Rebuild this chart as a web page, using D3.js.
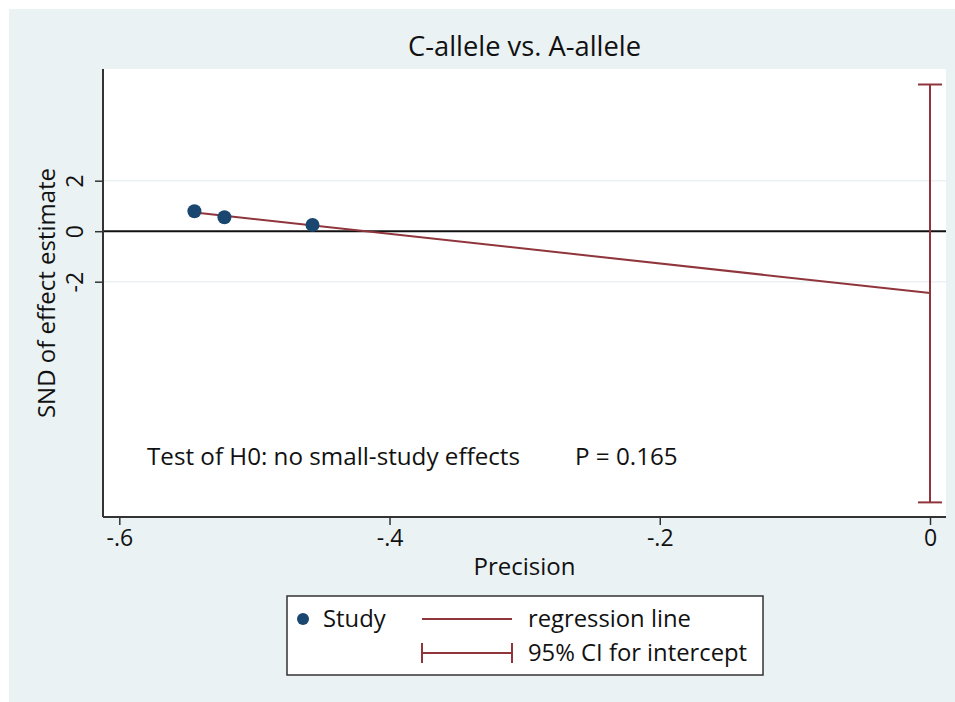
<!DOCTYPE html>
<html><head><meta charset="utf-8">
<script src="https://cdn.jsdelivr.net/npm/d3@7/dist/d3.min.js"></script>
<style>body{margin:0;background:#fff}svg{display:block}text{font-family:"Open Sans","Noto Sans",sans-serif;fill:#111}</style>
</head><body><svg id="c" width="955" height="702"></svg>
<script>
const title = "C-allele vs. A-allele";
const precision = [-0.5444, -0.5222, -0.457];
const snd = [0.79, 0.55, 0.25];
const regStart = -0.544, intercept = -2.45, slopeEnd = 0.74;
const ciLow = -10.74, ciHigh = 5.81;
const xTicks = [-0.6, -0.4, -0.2, 0];
const xTickLabels = ["-.6", "-.4", "-.2", "0"];
const yTicks = [2, 0, -2];
const testText = "Test of H0: no small-study effects";
const pText = "P = 0.165";
const legendLabels = ["Study", "regression line", "95% CI for intercept"];

const FF = '"Open Sans","Noto Sans",sans-serif';
const svg = d3.select("#c");
const bg = "#eaf2f3", navy = "#1a476f", maroon = "#90353b";
svg.append("rect").attr("x",9).attr("y",9).attr("width",946).attr("height",693).attr("fill",bg);
const L=103,T=69,R=946,B=517;
svg.append("rect").attr("x",L).attr("y",T).attr("width",R-L).attr("height",B-T).attr("fill","#fff");
const x = d3.scaleLinear().domain([-0.6,0]).range([119.3,930]);
const y = d3.scaleLinear().domain([2,-2]).range([180.7,281.7]);

// gridlines
svg.append("g").selectAll("line").data(yTicks.filter(d=>d!==0)).join("line")
  .attr("x1",L).attr("x2",R).attr("y1",d=>y(d)).attr("y2",d=>y(d))
  .attr("stroke",bg).attr("stroke-width",1.5);
// zero line
svg.append("line").attr("x1",L).attr("x2",R).attr("y1",y(0)).attr("y2",y(0)).attr("stroke","#111").attr("stroke-width",2);

// axes
const xa = svg.append("g").attr("transform",`translate(0,${B})`)
  .call(d3.axisBottom(x).tickValues(xTicks).tickFormat((d,i)=>xTickLabels[i]).tickSize(8).tickPadding(5));
xa.select(".domain").attr("d",`M${L},0H${R}`).attr("stroke","#333").attr("stroke-width",2);
xa.selectAll(".tick line").attr("stroke","#333").attr("stroke-width",1.5);
xa.selectAll(".tick text").attr("font-size",23).attr("fill","#111").style("font-family",FF);

const ya = svg.append("g").attr("transform",`translate(${L},0)`)
  .call(d3.axisLeft(y).tickValues(yTicks).tickSize(8).tickFormat(d=>d<0?"-"+Math.abs(d):String(d)));
ya.select(".domain").attr("d",`M0,${T}V${B}`).attr("stroke","#333").attr("stroke-width",2);
ya.selectAll(".tick line").attr("stroke","#333").attr("stroke-width",1.5);
ya.selectAll(".tick text").attr("font-size",23).attr("fill","#111")
  .attr("x",0).attr("dy",0).attr("text-anchor","middle")
  .attr("transform","translate(-20,0) rotate(-90)")
  .style("font-family",FF);

// CI
const ciX = x(0), cap=12;
svg.append("line").attr("x1",ciX).attr("x2",ciX).attr("y1",y(ciHigh)).attr("y2",y(ciLow)).attr("stroke",maroon).attr("stroke-width",2);
[ciHigh,ciLow].forEach(v=>svg.append("line").attr("x1",ciX-cap).attr("x2",ciX+cap).attr("y1",y(v)).attr("y2",y(v)).attr("stroke",maroon).attr("stroke-width",2));
// regression line
svg.append("line").attr("x1",x(regStart)).attr("y1",y(slopeEnd)).attr("x2",x(0)).attr("y2",y(intercept)).attr("stroke",maroon).attr("stroke-width",2);
// points
svg.append("g").selectAll("circle").data(precision).join("circle")
  .attr("cx",d=>x(d)).attr("cy",(d,i)=>y(snd[i])).attr("r",7).attr("fill",navy);

// texts
svg.append("text").attr("x",524.5).attr("y",56).attr("text-anchor","middle").attr("font-size",27.3).text(title);
svg.append("text").attr("x",524.5).attr("y",575).attr("text-anchor","middle").attr("font-size",24).text("Precision");
svg.append("text").attr("transform","translate(55,293) rotate(-90)").attr("text-anchor","middle").attr("font-size",24).text("SND of effect estimate");
svg.append("text").attr("x",147).attr("y",465).attr("font-size",24.2).text(testText);
svg.append("text").attr("x",575).attr("y",465).attr("font-size",24.2).text(pText);

// legend
svg.append("rect").attr("x",287).attr("y",596).attr("width",476).attr("height",79).attr("fill","#fff").attr("stroke","#333").attr("stroke-width",1.5);
svg.append("circle").attr("cx",303).attr("cy",619).attr("r",6).attr("fill",navy);
svg.append("text").attr("x",323).attr("y",627).attr("font-size",23.8).text(legendLabels[0]);
svg.append("line").attr("x1",422).attr("x2",512).attr("y1",619).attr("y2",619).attr("stroke",maroon).attr("stroke-width",2);
svg.append("text").attr("x",528).attr("y",627).attr("font-size",23.8).text(legendLabels[1]);
svg.append("line").attr("x1",422).attr("x2",512).attr("y1",653).attr("y2",653).attr("stroke",maroon).attr("stroke-width",2);
[422,512].forEach(v=>svg.append("line").attr("x1",v).attr("x2",v).attr("y1",643).attr("y2",663).attr("stroke",maroon).attr("stroke-width",2));
svg.append("text").attr("x",528).attr("y",661).attr("font-size",23.8).text(legendLabels[2]);
</script></body></html>
